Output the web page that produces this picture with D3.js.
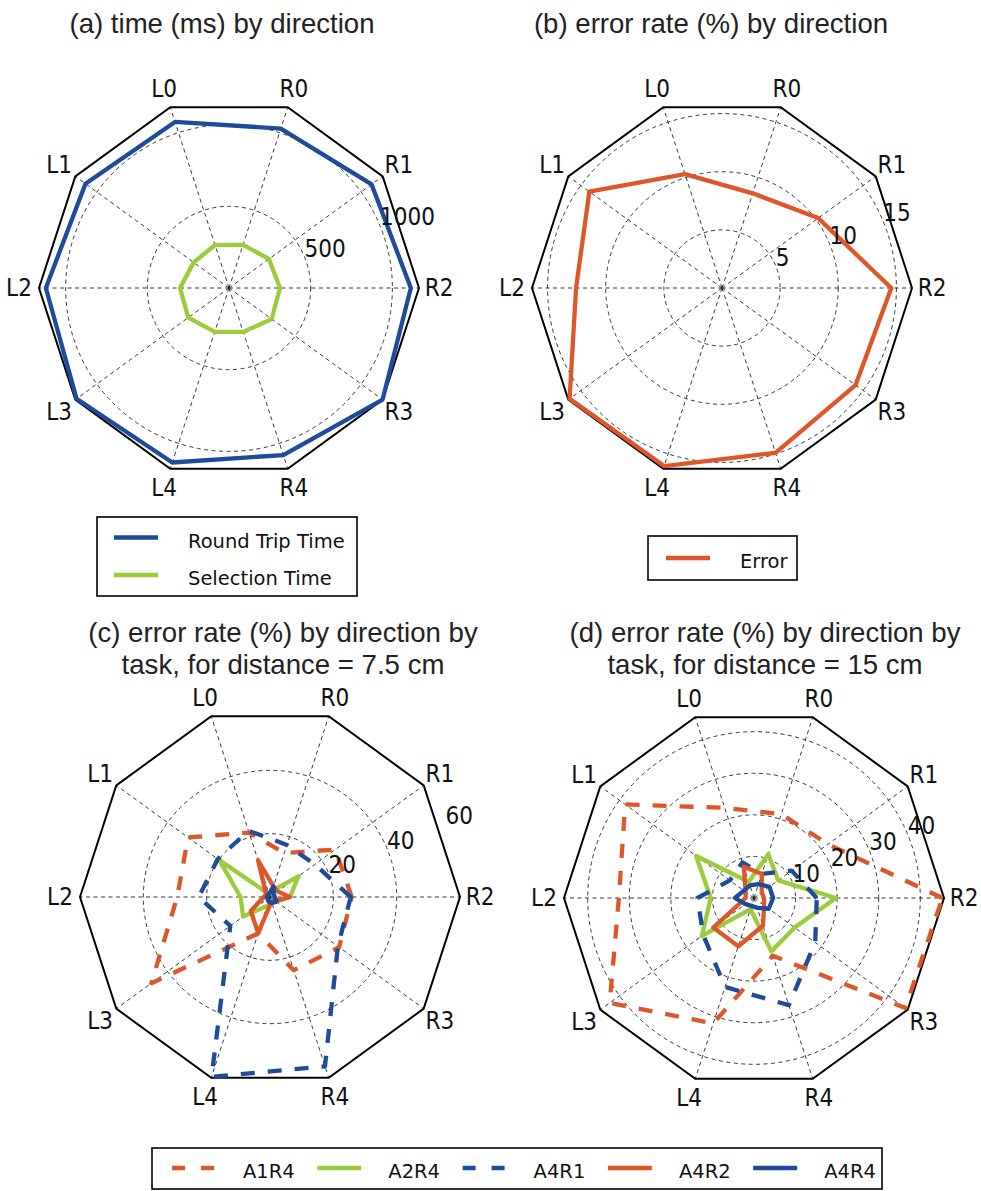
<!DOCTYPE html>
<html><head><meta charset="utf-8">
<script src="https://cdn.jsdelivr.net/npm/d3@7"></script>
<style>body{margin:0;background:#fff} svg{display:block}</style>
</head><body>
<svg id="chart" width="981" height="1191"></svg>
<script>
// categories, counter-clockwise starting at the right (R2)
const directions = ["R2","R1","R0","L0","L1","L2","L3","L4","R4","R3"];

// (a) time (ms)
const roundTrip = [1113, 1079, 1026, 1069, 1086, 1121, 1153, 1123, 1075, 1162];
const selection = [312, 302, 278, 277, 267, 300, 308, 283, 283, 323];
const ticksA = [500, 1000];

// (b) error rate (%)
const errorRate = [14.56, 10.23, 8.56, 10.3, 14.1, 12.55, 16.2, 16.1, 14.9, 14.2];
const ticksB = [5, 10, 15];

// (c) distance 7.5 cm
const cA1R4 = [25.8, 25.5, 14.6, 21.4, 32.0, 29.3, 46.3, 12.1, 24.3, 27.0];
const cA2R4 = [6.3, 11.1, 2.0, 1.0, 19.8, 9.3, 10.5, 3.0, 2.0, 2.5];
const cA4R1 = [25.5, 17.5, 17.3, 22.0, 20.4, 22.5, 15.5, 59.7, 56.2, 26.5];
const cA4R2 = [6.3, 3.0, 3.5, 12.2, 1.5, 2.0, 7.5, 12.0, 1.5, 2.0];
const cA4R4 = [1.5, 1.5, 3.5, 1.0, 1.0, 1.0, 1.0, 1.5, 2.0, 2.5];
const ticksC = [20, 40, 60];

// (d) distance 15 cm
const dA1R4 = [45.3, 22.0, 21.2, 22.8, 38.3, 32.5, 42.9, 31.7, 14.6, 45.0];
const dA2R4 = [19.7, 7.2, 11.1, 4.1, 17.2, 10.4, 15.5, 2.8, 13.5, 12.1];
const dA4R1 = [15.1, 11.2, 6.1, 9.0, 7.2, 13.6, 15.1, 22.5, 27.1, 18.2];
const dA4R2 = [2.4, 2.3, 6.1, 7.9, 2.5, 2.0, 12.1, 12.2, 7.0, 3.0];
const dA4R4 = [4.6, 4.6, 3.5, 3.2, 3.0, 4.6, 2.5, 2.0, 2.5, 4.4];
const ticksD = [10, 20, 30, 40];

const taskNames = ["A1R4","A2R4","A4R1","A4R2","A4R4"];

const BLUE = "#1f4b9b", GREEN = "#9ccb3b", ORANGE = "#e0562b";
const taskStyle = {
  A1R4: {color: ORANGE, dash: true},
  A2R4: {color: GREEN, dash: false},
  A4R1: {color: BLUE, dash: true},
  A4R2: {color: ORANGE, dash: false},
  A4R4: {color: BLUE, dash: false}
};

const svg = d3.select("#chart");
const LABEL_FONT = "'DejaVu Sans', sans-serif";
const TITLE_FONT = "'Liberation Sans', Arial, sans-serif";

// d3 radial angle (0 = up, clockwise); index 0 at the right, going counter-clockwise
const angle = d3.scaleLinear().domain([0, directions.length]).range([Math.PI / 2, Math.PI / 2 - 2 * Math.PI]);

function sxText(g, x, y, txt, size, anchor, baseline, sx) {
  g.append("text")
    .attr("transform", `translate(${x},${y}) scale(${sx},1)`)
    .attr("text-anchor", anchor)
    .attr("dominant-baseline", baseline)
    .attr("font-family", LABEL_FONT)
    .attr("font-size", size)
    .attr("fill", "#111")
    .text(txt);
}

function radar(cfg) {
  const R = 190;
  const g = svg.append("g").attr("transform", `translate(${cfg.cx},${cfg.cy})`);
  const r = d3.scaleLinear().domain([0, cfg.rmax]).range([0, R]);

  // grid circles
  g.selectAll("circle.grid").data(cfg.ticks.filter(t => r(t) < R - 2)).join("circle")
    .attr("r", d => r(d)).attr("fill", "none")
    .attr("stroke", "#222").attr("stroke-width", 0.9).attr("stroke-dasharray", "4,3.5");

  // spokes
  g.selectAll("line.spoke").data(directions).join("line")
    .attr("x1", 0).attr("y1", 0)
    .attr("x2", (d, i) => R * Math.sin(angle(i)))
    .attr("y2", (d, i) => -R * Math.cos(angle(i)))
    .attr("stroke", "#222").attr("stroke-width", 0.9).attr("stroke-dasharray", "4,3.5");

  // frame
  const frameLine = d3.lineRadial().angle((d, i) => angle(i)).radius(R).curve(d3.curveLinearClosed);
  g.append("path").attr("d", frameLine(directions))
    .attr("fill", "none").attr("stroke", "#000").attr("stroke-width", 2);

  // series
  const line = d3.lineRadial().angle((d, i) => angle(i)).radius(d => r(d)).curve(d3.curveLinearClosed);
  cfg.series.forEach(s => {
    g.append("path").attr("d", line(s.values))
      .attr("fill", "none").attr("stroke", s.color).attr("stroke-width", 4.3)
      .attr("stroke-linejoin", "round")
      .attr("stroke-dasharray", s.dash ? "14,13" : null);
  });

  // radial tick labels at 22.5 deg
  const ta = Math.PI / 8;
  cfg.ticks.forEach(t => {
    sxText(g, r(t) * Math.cos(ta), -r(t) * Math.sin(ta), t, 24, "start", "alphabetic", 0.9);
  });

  // direction labels
  directions.forEach((d, i) => {
    const a = angle(i);
    sxText(g, 210 * Math.sin(a), -210 * Math.cos(a), d, 24, "middle", "central", 0.9);
  });

  // titles
  cfg.title.forEach((t, k) => {
    svg.append("text").attr("x", cfg.titleX).attr("y", cfg.titleY + k * 31.6)
      .attr("text-anchor", "middle").attr("font-family", TITLE_FONT)
      .attr("font-size", 27.6).attr("fill", "#222").text(t);
  });
}

radar({cx: 229, cy: 288, rmax: 1163, ticks: ticksA,
  title: ["(a) time (ms) by direction"], titleX: 222, titleY: 33,
  series: [{values: roundTrip, color: BLUE}, {values: selection, color: GREEN}]});

radar({cx: 722, cy: 288, rmax: 16.34, ticks: ticksB,
  title: ["(b) error rate (%) by direction"], titleX: 711, titleY: 33,
  series: [{values: errorRate, color: ORANGE}]});

const cData = [cA1R4, cA2R4, cA4R1, cA4R2, cA4R4];
radar({cx: 270, cy: 897, rmax: 60, ticks: ticksC,
  title: ["(c) error rate (%) by direction by", "task, for distance = 7.5 cm"], titleX: 283, titleY: 642,
  series: taskNames.map((n, i) => ({values: cData[i], color: taskStyle[n].color, dash: taskStyle[n].dash}))});

const dData = [dA1R4, dA2R4, dA4R1, dA4R2, dA4R4];
radar({cx: 754, cy: 898, rmax: 45.7, ticks: ticksD,
  title: ["(d) error rate (%) by direction by", "task, for distance = 15 cm"], titleX: 765, titleY: 642,
  series: taskNames.map((n, i) => ({values: dData[i], color: taskStyle[n].color, dash: taskStyle[n].dash}))});

// legends
function legendBox(x, y, w, h) {
  svg.append("rect").attr("x", x).attr("y", y).attr("width", w).attr("height", h)
    .attr("fill", "#fff").attr("stroke", "#000").attr("stroke-width", 1.6);
}
function legendItem(x, y, label, color, dash, tx) {
  svg.append("line").attr("x1", x).attr("x2", x + 44).attr("y1", y).attr("y2", y)
    .attr("stroke", color).attr("stroke-width", 4.3)
    .attr("stroke-dasharray", dash ? "13,16" : null);
  sxText(svg, tx, y + 10, label, 20, "start", "alphabetic", 0.975);
}

legendBox(97, 517, 260, 79);
legendItem(114, 537.5, "Round Trip Time", BLUE, false, 188);
legendItem(114, 575, "Selection Time", GREEN, false, 188);

legendBox(648, 536, 149, 44);
legendItem(666, 558, "Error", ORANGE, false, 740);

legendBox(152, 1148, 730, 41);
taskNames.forEach((n, i) => {
  legendItem(172 + i * 145.3, 1168, n, taskStyle[n].color, taskStyle[n].dash, 243 + i * 145.3);
});
</script>
</body></html>
